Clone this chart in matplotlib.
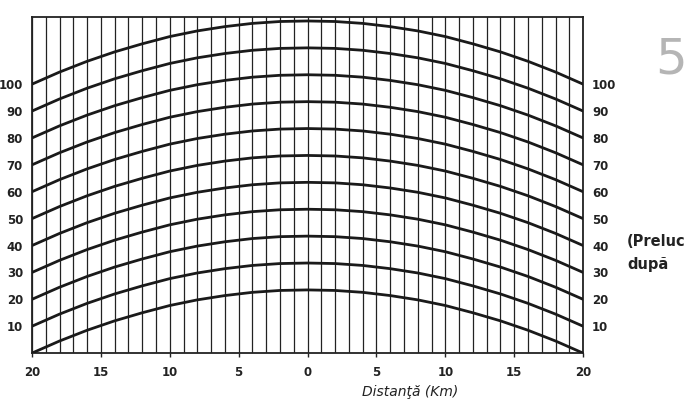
import numpy as np
import matplotlib.pyplot as plt

# distance from the centre (km), read every 2 km
distance = [-20, -18, -16, -14, -12, -10, -8, -6, -4, -2, 0,
            2, 4, 6, 8, 10, 12, 14, 16, 18, 20]
# rise of each curve above its edge height (m)
bulge = [0, 4.5, 8.5, 12, 15, 17.7, 19.8, 21.4, 22.6, 23.3, 23.5,
         23.3, 22.6, 21.4, 19.8, 17.7, 15, 12, 8.5, 4.5, 0]
# height of each curve at both edges (m)
edge_heights = [0, 10, 20, 30, 40, 50, 60, 70, 80, 90, 100]

x_ticks = [-20, -15, -10, -5, 0, 5, 10, 15, 20]
x_labels = ['20', '15', '10', '5', '0', '5', '10', '15', '20']
y_ticks = [10, 20, 30, 40, 50, 60, 70, 80, 90, 100]

fig = plt.figure(figsize=(6.95, 4.13), dpi=100, facecolor='white')
ax = fig.add_axes([0.046, 0.145, 0.793, 0.814])

for h in edge_heights:
    ax.plot(distance, np.array(bulge) + h, color='#1a1a1a', lw=2.0,
            solid_capstyle='round', zorder=3)

ax.set_xlim(-20, 20)
ax.set_ylim(0, 125)

ax.set_xticks(x_ticks)
ax.set_xticklabels(x_labels)
ax.set_xticks(np.arange(-20, 21, 1), minor=True)
ax.grid(True, which='both', axis='x', color='#222222', lw=0.9)
ax.set_axisbelow(True)

ax.set_yticks(y_ticks)
ax.tick_params(axis='y', left=False, right=False, labelleft=True,
               labelright=True, pad=3, labelsize=8.5, labelcolor='#222222')
ax.tick_params(axis='x', which='major', length=3, width=1, pad=6,
               labelsize=8.5, labelcolor='#222222', color='#222222')
ax.tick_params(axis='x', which='minor', length=0)
for lab in ax.get_xticklabels() + ax.get_yticklabels():
    lab.set_fontweight('bold')
for s in ax.spines.values():
    s.set_color('#222222')
    s.set_linewidth(1.3)

fig.text(0.59, 0.05, 'Distanţă (Km)', style='italic', fontsize=10,
         color='#222222', ha='center', va='center')
fig.text(0.942, 0.855, '5', fontsize=36, color='#b5b5b5',
         ha='left', va='center')
fig.text(0.902, 0.415, '(Preluc', fontsize=10.5, fontweight='bold',
         color='#222222', ha='left', va='center')
fig.text(0.902, 0.36, 'după', fontsize=10.5, fontweight='bold',
         color='#222222', ha='left', va='center')

fig.savefig('out.png', dpi=100)
